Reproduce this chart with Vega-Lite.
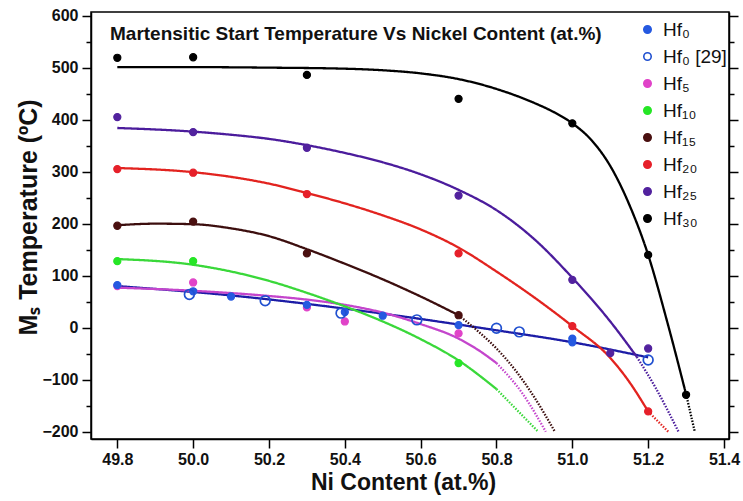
{
  "$schema": "https://vega.github.io/schema/vega-lite/v6.json",
  "width": 638,
  "height": 427,
  "autosize": {"type": "none"},
  "padding": {"left": 91, "top": 12, "right": 14, "bottom": 62},
  "background": "white",
  "config": {
    "font": "Liberation Sans",
    "view": {"stroke": "black", "strokeWidth": 1.5},
    "title": {"fontSize": 19, "fontWeight": "bold", "font": "Liberation Sans", "color": "#111111", "anchor": "start", "frame": "group", "offset": -36, "dx": 19, "baseline": "alphabetic"},
    "axis": {
      "labelFont": "Liberation Sans",
      "labelFontWeight": "bold",
      "labelFontSize": 16,
      "labelColor": "#111111",
      "tickColor": "black",
      "tickWidth": 1.5,
      "domainColor": "black",
      "domainWidth": 1.5,
      "grid": false,
      "labelOverlap": false,
      "titleFont": "Liberation Sans",
      "titleFontWeight": "bold",
      "titleColor": "#111111"
    },
    "legend": {
      "labelFont": "Liberation Sans",
      "labelFontSize": 19,
      "labelColor": "#111111"
    }
  },
  "title": {
    "text": "Martensitic Start Temperature Vs Nickel Content (at.%)",
    "fontSize": 19
  },
  "datasets": {
    "curves": [
      {"series": "Hf₀", "segment": "fit", "x": 49.8, "y": 80},
      {"series": "Hf₀", "segment": "fit", "x": 50.1, "y": 62},
      {"series": "Hf₀", "segment": "fit", "x": 50.5, "y": 27},
      {"series": "Hf₀", "segment": "fit", "x": 50.8, "y": -5},
      {"series": "Hf₀", "segment": "fit", "x": 51.0, "y": -28},
      {"series": "Hf₀", "segment": "fit", "x": 51.2, "y": -57},

      {"series": "Hf₅", "segment": "fit", "x": 49.8, "y": 77},
      {"series": "Hf₅", "segment": "fit", "x": 50.0, "y": 71},
      {"series": "Hf₅", "segment": "fit", "x": 50.2, "y": 61},
      {"series": "Hf₅", "segment": "fit", "x": 50.3, "y": 54},
      {"series": "Hf₅", "segment": "fit", "x": 50.4, "y": 44},
      {"series": "Hf₅", "segment": "fit", "x": 50.5, "y": 29},
      {"series": "Hf₅", "segment": "fit", "x": 50.6, "y": 7},
      {"series": "Hf₅", "segment": "fit", "x": 50.7, "y": -21},
      {"series": "Hf₅", "segment": "fit", "x": 50.75, "y": -42},
      {"series": "Hf₅", "segment": "fit", "x": 50.8, "y": -68},
      {"series": "Hf₅", "segment": "extrapolated", "x": 50.8, "y": -68},
      {"series": "Hf₅", "segment": "extrapolated", "x": 50.87, "y": -128},
      {"series": "Hf₅", "segment": "extrapolated", "x": 50.93, "y": -200},

      {"series": "Hf₁₀", "segment": "fit", "x": 49.8, "y": 132},
      {"series": "Hf₁₀", "segment": "fit", "x": 50.0, "y": 121},
      {"series": "Hf₁₀", "segment": "fit", "x": 50.1, "y": 108},
      {"series": "Hf₁₀", "segment": "fit", "x": 50.2, "y": 90},
      {"series": "Hf₁₀", "segment": "fit", "x": 50.3, "y": 67},
      {"series": "Hf₁₀", "segment": "fit", "x": 50.4, "y": 41},
      {"series": "Hf₁₀", "segment": "fit", "x": 50.5, "y": 12},
      {"series": "Hf₁₀", "segment": "fit", "x": 50.6, "y": -22},
      {"series": "Hf₁₀", "segment": "fit", "x": 50.7, "y": -63},
      {"series": "Hf₁₀", "segment": "fit", "x": 50.8, "y": -118},
      {"series": "Hf₁₀", "segment": "extrapolated", "x": 50.8, "y": -118},
      {"series": "Hf₁₀", "segment": "extrapolated", "x": 50.91, "y": -200},

      {"series": "Hf₁₅", "segment": "fit", "x": 49.8, "y": 197},
      {"series": "Hf₁₅", "segment": "fit", "x": 49.9, "y": 200},
      {"series": "Hf₁₅", "segment": "fit", "x": 50.0, "y": 199},
      {"series": "Hf₁₅", "segment": "fit", "x": 50.1, "y": 191},
      {"series": "Hf₁₅", "segment": "fit", "x": 50.2, "y": 176},
      {"series": "Hf₁₅", "segment": "fit", "x": 50.3, "y": 151},
      {"series": "Hf₁₅", "segment": "fit", "x": 50.4, "y": 123},
      {"series": "Hf₁₅", "segment": "fit", "x": 50.5, "y": 93},
      {"series": "Hf₁₅", "segment": "fit", "x": 50.6, "y": 60},
      {"series": "Hf₁₅", "segment": "fit", "x": 50.7, "y": 24},
      {"series": "Hf₁₅", "segment": "extrapolated", "x": 50.7, "y": 24},
      {"series": "Hf₁₅", "segment": "extrapolated", "x": 50.75, "y": -6},
      {"series": "Hf₁₅", "segment": "extrapolated", "x": 50.8, "y": -40},
      {"series": "Hf₁₅", "segment": "extrapolated", "x": 50.85, "y": -82},
      {"series": "Hf₁₅", "segment": "extrapolated", "x": 50.9, "y": -134},
      {"series": "Hf₁₅", "segment": "extrapolated", "x": 50.954, "y": -200},

      {"series": "Hf₂₀", "segment": "fit", "x": 49.8, "y": 307},
      {"series": "Hf₂₀", "segment": "fit", "x": 50.0, "y": 299},
      {"series": "Hf₂₀", "segment": "fit", "x": 50.1, "y": 290},
      {"series": "Hf₂₀", "segment": "fit", "x": 50.2, "y": 277},
      {"series": "Hf₂₀", "segment": "fit", "x": 50.3, "y": 259},
      {"series": "Hf₂₀", "segment": "fit", "x": 50.4, "y": 239},
      {"series": "Hf₂₀", "segment": "fit", "x": 50.5, "y": 216},
      {"series": "Hf₂₀", "segment": "fit", "x": 50.6, "y": 189},
      {"series": "Hf₂₀", "segment": "fit", "x": 50.7, "y": 154},
      {"series": "Hf₂₀", "segment": "fit", "x": 50.8, "y": 108},
      {"series": "Hf₂₀", "segment": "fit", "x": 50.9, "y": 58},
      {"series": "Hf₂₀", "segment": "fit", "x": 51.0, "y": 3},
      {"series": "Hf₂₀", "segment": "fit", "x": 51.1, "y": -58},
      {"series": "Hf₂₀", "segment": "fit", "x": 51.15, "y": -104},
      {"series": "Hf₂₀", "segment": "fit", "x": 51.2, "y": -161},
      {"series": "Hf₂₀", "segment": "extrapolated", "x": 51.2, "y": -161},
      {"series": "Hf₂₀", "segment": "extrapolated", "x": 51.253, "y": -200},

      {"series": "Hf₂₅", "segment": "fit", "x": 49.8, "y": 384},
      {"series": "Hf₂₅", "segment": "fit", "x": 50.0, "y": 377},
      {"series": "Hf₂₅", "segment": "fit", "x": 50.1, "y": 371},
      {"series": "Hf₂₅", "segment": "fit", "x": 50.2, "y": 363},
      {"series": "Hf₂₅", "segment": "fit", "x": 50.3, "y": 351},
      {"series": "Hf₂₅", "segment": "fit", "x": 50.4, "y": 336},
      {"series": "Hf₂₅", "segment": "fit", "x": 50.5, "y": 318},
      {"series": "Hf₂₅", "segment": "fit", "x": 50.6, "y": 295},
      {"series": "Hf₂₅", "segment": "fit", "x": 50.7, "y": 265},
      {"series": "Hf₂₅", "segment": "fit", "x": 50.8, "y": 226},
      {"series": "Hf₂₅", "segment": "fit", "x": 50.9, "y": 170},
      {"series": "Hf₂₅", "segment": "fit", "x": 51.0, "y": 96},
      {"series": "Hf₂₅", "segment": "fit", "x": 51.1, "y": 12},
      {"series": "Hf₂₅", "segment": "fit", "x": 51.17, "y": -56},
      {"series": "Hf₂₅", "segment": "extrapolated", "x": 51.17, "y": -56},
      {"series": "Hf₂₅", "segment": "extrapolated", "x": 51.22, "y": -116},
      {"series": "Hf₂₅", "segment": "extrapolated", "x": 51.28, "y": -200},

      {"series": "Hf₃₀", "segment": "fit", "x": 49.8, "y": 501},
      {"series": "Hf₃₀", "segment": "fit", "x": 50.0, "y": 501},
      {"series": "Hf₃₀", "segment": "fit", "x": 50.2, "y": 500},
      {"series": "Hf₃₀", "segment": "fit", "x": 50.4, "y": 498},
      {"series": "Hf₃₀", "segment": "fit", "x": 50.5, "y": 495},
      {"series": "Hf₃₀", "segment": "fit", "x": 50.6, "y": 489},
      {"series": "Hf₃₀", "segment": "fit", "x": 50.7, "y": 478},
      {"series": "Hf₃₀", "segment": "fit", "x": 50.8, "y": 459},
      {"series": "Hf₃₀", "segment": "fit", "x": 50.9, "y": 432},
      {"series": "Hf₃₀", "segment": "fit", "x": 50.95, "y": 415},
      {"series": "Hf₃₀", "segment": "fit", "x": 51.0, "y": 393},
      {"series": "Hf₃₀", "segment": "fit", "x": 51.05, "y": 361},
      {"series": "Hf₃₀", "segment": "fit", "x": 51.1, "y": 311},
      {"series": "Hf₃₀", "segment": "fit", "x": 51.15, "y": 237},
      {"series": "Hf₃₀", "segment": "fit", "x": 51.2, "y": 140},
      {"series": "Hf₃₀", "segment": "fit", "x": 51.25, "y": 12},
      {"series": "Hf₃₀", "segment": "fit", "x": 51.3, "y": -128},
      {"series": "Hf₃₀", "segment": "extrapolated", "x": 51.3, "y": -128},
      {"series": "Hf₃₀", "segment": "extrapolated", "x": 51.323, "y": -200}
    ],
    "points": [
      {"series": "Hf₅", "x": 49.8, "y": 80},
      {"series": "Hf₅", "x": 50.0, "y": 87},
      {"series": "Hf₅", "x": 50.3, "y": 39},
      {"series": "Hf₅", "x": 50.4, "y": 12},
      {"series": "Hf₅", "x": 50.7, "y": -11},
      {"series": "Hf₁₀", "x": 49.8, "y": 128},
      {"series": "Hf₁₀", "x": 50.0, "y": 128},
      {"series": "Hf₁₀", "x": 50.7, "y": -68},
      {"series": "Hf₁₅", "x": 49.8, "y": 196},
      {"series": "Hf₁₅", "x": 50.0, "y": 204},
      {"series": "Hf₁₅", "x": 50.3, "y": 143},
      {"series": "Hf₁₅", "x": 50.7, "y": 24},
      {"series": "Hf₂₀", "x": 49.8, "y": 305},
      {"series": "Hf₂₀", "x": 50.0, "y": 298},
      {"series": "Hf₂₀", "x": 50.3, "y": 257},
      {"series": "Hf₂₀", "x": 50.7, "y": 143},
      {"series": "Hf₂₀", "x": 51.0, "y": 3},
      {"series": "Hf₂₀", "x": 51.2, "y": -161},
      {"series": "Hf₂₅", "x": 49.8, "y": 405},
      {"series": "Hf₂₅", "x": 50.0, "y": 376},
      {"series": "Hf₂₅", "x": 50.3, "y": 346},
      {"series": "Hf₂₅", "x": 50.7, "y": 254},
      {"series": "Hf₂₅", "x": 51.0, "y": 92},
      {"series": "Hf₂₅", "x": 51.1, "y": -49},
      {"series": "Hf₂₅", "x": 51.2, "y": -40},
      {"series": "Hf₃₀", "x": 49.8, "y": 519},
      {"series": "Hf₃₀", "x": 50.0, "y": 520},
      {"series": "Hf₃₀", "x": 50.3, "y": 486},
      {"series": "Hf₃₀", "x": 50.7, "y": 440},
      {"series": "Hf₃₀", "x": 51.0, "y": 393},
      {"series": "Hf₃₀", "x": 51.2, "y": 140},
      {"series": "Hf₃₀", "x": 51.3, "y": -129},
      {"series": "Hf₀", "x": 49.8, "y": 82},
      {"series": "Hf₀", "x": 50.0, "y": 70},
      {"series": "Hf₀", "x": 50.1, "y": 60},
      {"series": "Hf₀", "x": 50.3, "y": 44},
      {"series": "Hf₀", "x": 50.4, "y": 30},
      {"series": "Hf₀", "x": 50.5, "y": 23},
      {"series": "Hf₀", "x": 50.7, "y": 5},
      {"series": "Hf₀", "x": 51.0, "y": -21},
      {"series": "Hf₀", "x": 51.0, "y": -28},
      {"series": "Hf₀ [29]", "x": 49.99, "y": 64},
      {"series": "Hf₀ [29]", "x": 50.19, "y": 52},
      {"series": "Hf₀ [29]", "x": 50.39, "y": 28},
      {"series": "Hf₀ [29]", "x": 50.59, "y": 15},
      {"series": "Hf₀ [29]", "x": 50.8, "y": -1},
      {"series": "Hf₀ [29]", "x": 50.86, "y": -8},
      {"series": "Hf₀ [29]", "x": 51.2, "y": -62}
    ]
  },
  "layer": [
    {
      "data": {"name": "curves"},
      "mark": {"type": "line", "strokeWidth": 2.3, "clip": true, "interpolate": "monotone"},
      "encoding": {
        "x": {
          "field": "x", "type": "quantitative",
          "scale": {"domain": [49.7306, 51.4132], "nice": false, "zero": false},
          "axis": {
            "orient": "bottom",
            "values": [49.8, 49.9, 50.0, 50.1, 50.2, 50.3, 50.4, 50.5, 50.6, 50.7, 50.8, 50.9, 51.0, 51.1, 51.2, 51.3, 51.4],
            "format": ".1f",
            "labelExpr": "round(datum.value*10)%2==0 ? datum.label : ''",
            "tickSize": {"condition": {"test": "round(datum.value*10)%2!=0", "value": 5}, "value": 9},
            "labelPadding": 3,
            "title": "Ni Content (at.%)",
            "titleFontSize": 23,
            "titlePadding": 4,
            "titleX": 312
          }
        },
        "y": {
          "field": "y", "type": "quantitative",
          "scale": {"domain": [-214, 607], "nice": false, "zero": false},
          "axis": {
            "orient": "left",
            "values": [-200, -150, -100, -50, 0, 50, 100, 150, 200, 250, 300, 350, 400, 450, 500, 550, 600],
            "labelExpr": "datum.value%100==0 ? datum.label : ''",
            "tickSize": {"condition": {"test": "datum.value%100!=0", "value": 5}, "value": 9},
            "labelPadding": 4,
            "title": "Mₛ Temperature (ºC)",
            "titleFontSize": 25,
            "titleX": -63,
            "titleY": 205,
            "titleBaseline": "middle",
            "titleAlign": "center",
            "titleAngle": -90
          }
        },
        "color": {
          "field": "series", "type": "nominal",
          "scale": {
            "domain": ["Hf₀", "Hf₅", "Hf₁₀", "Hf₁₅", "Hf₂₀", "Hf₂₅", "Hf₃₀"],
            "range": ["#1c1ca6", "#c445cc", "#3ad83a", "#3c0e0e", "#e2231f", "#4b1c9c", "#000000"]
          },
          "legend": null
        },
        "strokeDash": {
          "field": "segment", "type": "nominal",
          "scale": {"domain": ["fit", "extrapolated"], "range": [[1, 0], [1.5, 1.5]]},
          "legend": null
        }
      }
    },
    {
      "data": {"name": "points"},
      "transform": [{"filter": "datum.series != 'Hf₀ [29]'"}],
      "mark": {"type": "point", "shape": "circle", "opacity": 1, "strokeWidth": 1.2, "size": 50},
      "encoding": {
        "x": {"field": "x", "type": "quantitative"},
        "y": {
          "field": "y", "type": "quantitative",
          "axis": {
            "orient": "right",
            "values": [-200, -150, -100, -50, 0, 50, 100, 150, 200, 250, 300, 350, 400, 450, 500, 550, 600],
            "labels": false,
            "title": null,
            "tickSize": {"condition": {"test": "datum.value%100!=0", "value": 5}, "value": 9}
          }
        },
        "fill": {
          "field": "series", "type": "nominal",
          "scale": {
            "domain": ["Hf₀", "Hf₀ [29]", "Hf₅", "Hf₁₀", "Hf₁₅", "Hf₂₀", "Hf₂₅", "Hf₃₀"],
            "range": ["#2559e0", "#ffffff", "#e043c8", "#26e626", "#4a1010", "#e6202a", "#52229e", "#000000"]
          },
          "legend": {
            "title": null,
            "orient": "none",
            "legendX": 547,
            "legendY": 8,
            "padding": 0,
            "symbolSize": 55,
            "symbolStrokeWidth": 1.6,
            "labelOffset": 6,
            "rowPadding": 7,
            "labelLimit": 200
          }
        },
        "stroke": {
          "field": "series", "type": "nominal",
          "scale": {
            "domain": ["Hf₀", "Hf₀ [29]", "Hf₅", "Hf₁₀", "Hf₁₅", "Hf₂₀", "Hf₂₅", "Hf₃₀"],
            "range": ["#2559e0", "#2050d0", "#e043c8", "#26e626", "#4a1010", "#e6202a", "#52229e", "#000000"]
          },
          "legend": {
            "title": null,
            "orient": "none",
            "legendX": 547,
            "legendY": 8,
            "padding": 0,
            "symbolSize": 55,
            "symbolStrokeWidth": 1.6,
            "labelOffset": 6,
            "rowPadding": 7,
            "labelLimit": 200
          }
        }
      }
    },
    {
      "data": {"name": "points"},
      "transform": [{"filter": "datum.series == 'Hf₀ [29]'"}],
      "mark": {"type": "point", "shape": "circle", "opacity": 1, "filled": false, "strokeWidth": 1.7, "size": 95, "color": "#2050d0"},
      "encoding": {
        "x": {"field": "x", "type": "quantitative"},
        "y": {"field": "y", "type": "quantitative", "axis": null}
      }
    }
  ],
  "resolve": {"axis": {"y": "independent"}}
}
